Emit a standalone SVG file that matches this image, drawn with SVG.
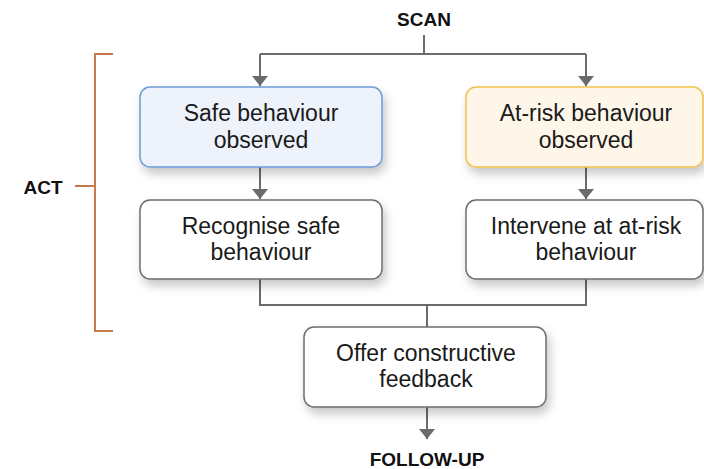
<svg xmlns="http://www.w3.org/2000/svg" width="704" height="469" viewBox="0 0 704 469">
<defs>
<filter id="sh" x="-20%" y="-20%" width="140%" height="160%">
<feDropShadow dx="3" dy="6" stdDeviation="5" flood-color="#000" flood-opacity="0.22"/>
</filter>
<marker id="ah" viewBox="0 0 10 16" refX="10" refY="8" markerWidth="10" markerHeight="16" markerUnits="userSpaceOnUse" orient="auto">
<path d="M0,0 L10,8 L0,16 Z" fill="#6b6b6b"/>
</marker>
<style>
.box{fill:#fff;stroke:#6e6e6e;stroke-width:1.5;filter:url(#sh)}
.safe{fill:#eef2fb;stroke:#6f9bd9}
.risk{fill:#fdf6e9;stroke:#f2c14e}
.t{font-family:"Liberation Sans",Arial,sans-serif;font-size:23px;fill:#1a1a1a;text-anchor:middle}
.lbl{font-family:"Liberation Sans",Arial,sans-serif;font-size:19px;font-weight:bold;fill:#111;text-anchor:middle}
.c{fill:none;stroke:#6b6b6b;stroke-width:2}
.br{fill:none;stroke:#c8794a;stroke-width:2}
</style>
</defs>
<rect width="704" height="469" fill="#fff"/>
<g id="connectors">
<path class="c" d="M424,35 V54"/>
<path class="c" d="M260,54 H586"/>
<path class="c" d="M260,54 V86" marker-end="url(#ah)"/>
<path class="c" d="M586,54 V86" marker-end="url(#ah)"/>
<path class="c" d="M260,167 V199" marker-end="url(#ah)"/>
<path class="c" d="M586,167 V199" marker-end="url(#ah)"/>
<path class="c" d="M260,279 V305 H586 V279"/>
<path class="c" d="M427,305 V327"/>
<path class="c" d="M427,407 V439" marker-end="url(#ah)"/>
</g>
<g id="bracket">
<path class="br" d="M113,54 H95 V331 H113"/>
<path class="br" d="M75,186 H95"/>
</g>
<g id="scan"><text class="lbl" x="424" y="26">SCAN</text></g>
<g id="act"><text class="lbl" x="43" y="194">ACT</text></g>
<g id="followup"><text class="lbl" x="427" y="466">FOLLOW-UP</text></g>
<g id="safe-observed">
<rect class="box safe" x="140" y="87" width="242" height="80" rx="10"/>
<text class="t" x="261" y="121">Safe behaviour</text>
<text class="t" x="261" y="148">observed</text>
</g>
<g id="risk-observed">
<rect class="box risk" x="466" y="87" width="237" height="80" rx="10"/>
<text class="t" x="586" y="121">At-risk behaviour</text>
<text class="t" x="586" y="148">observed</text>
</g>
<g id="recognise">
<rect class="box" x="140" y="200" width="242" height="79" rx="10"/>
<text class="t" x="261" y="234">Recognise safe</text>
<text class="t" x="261" y="260">behaviour</text>
</g>
<g id="intervene">
<rect class="box" x="466" y="200" width="237" height="79" rx="10"/>
<text class="t" x="586" y="234">Intervene at at-risk</text>
<text class="t" x="586" y="260">behaviour</text>
</g>
<g id="feedback">
<rect class="box" x="304" y="327" width="242" height="80" rx="10"/>
<text class="t" x="426" y="361">Offer constructive</text>
<text class="t" x="426" y="387">feedback</text>
</g>
</svg>
